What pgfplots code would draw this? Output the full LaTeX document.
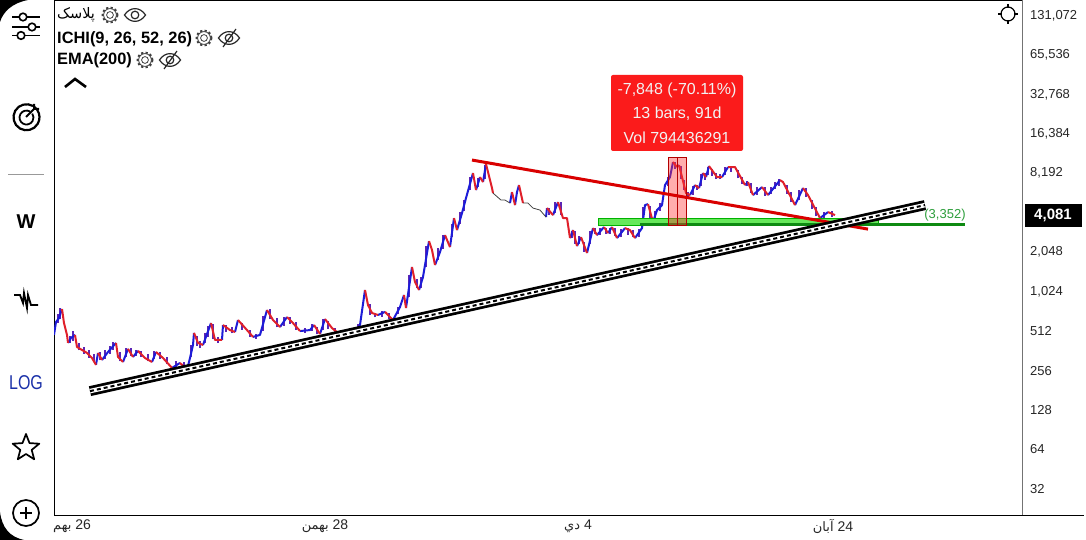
\documentclass[border=0pt]{standalone}
\usepackage{fontspec}
\usepackage{graphicx}
\usepackage{pgfplots}
\pgfplotsset{compat=1.18}
\setmainfont{Liberation Sans}
\newfontfamily\arabicfont[Script=Arabic]{DejaVu Sans}
\TeXXeTstate=1
\definecolor{upc}{HTML}{1C1CD8}
\definecolor{dnc}{HTML}{E0202A}
\definecolor{midc}{HTML}{5B25B5}
\definecolor{tipred}{HTML}{FB1B1B}
\definecolor{gfill}{HTML}{66E85A}
\definecolor{gdark}{HTML}{0E8A12}
\definecolor{glab}{HTML}{2E9E3C}
\definecolor{logblue}{HTML}{1A30A8}
\newcommand{\fs}[1]{\fontsize{#1}{#1}\selectfont}
\newcommand{\gearicon}[1]{%
  \draw[line width=2pt,draw=black!75,dash pattern=on 2.2pt off 2.2pt] (#1) circle (7.4);
  \draw[line width=.8pt,draw=black!75,fill=white] (#1) circle (6.4);
  \draw[line width=.8pt,draw=black!75] (#1) circle (3.4);
}
\newcommand{\eyeicon}[1]{%
  \draw[line width=1.2pt,draw=black!85,shift={(#1)}] (-10.5,0) .. controls (-5,-8.5) and (5,-8.5) .. (10.5,0) .. controls (5,8.5) and (-5,8.5) .. (-10.5,0) -- cycle;
  \draw[line width=1.2pt,draw=black!85] (#1) circle (3.8);
}
\newcommand{\eyeoff}[1]{%
  \eyeicon{#1}
  \draw[line width=1.2pt,draw=black!85,shift={(#1)}] (-6,9) -- (7,-9);
}
\begin{document}
\begin{tikzpicture}
\useasboundingbox (0,0) rectangle (1086pt,540pt);
\begin{axis}[
  at={(54pt,25pt)}, anchor=south west,
  scale only axis, width=968pt, height=515pt,
  xmin=54, xmax=1022,
  ymode=log, log basis y=2,
  ymin=20.55, ymax=174270,
  ytick={32,64,128,256,512,1024,2048,4096,8192,16384,32768,65536,131072},
  yticklabels={32,64,128,256,512,{1,024},{2,048},,{8,192},{16,384},{32,768},{65,536},{131,072}},
  xtick={72,325,578,833},
  xticklabels={{\arabicfont\fs{13}\beginR بهم\endR}\ 26,{\arabicfont\fs{13}\beginR بهمن\endR}\ 28,{\arabicfont\fs{13}\beginR دي\endR}\ 4,{\arabicfont\fs{13}\beginR آبان\endR}\ 24},
  yticklabel pos=right,
  major tick length=0pt, minor tick num=0,
  tick label style={font=\fs{14},text=black!85},
  yticklabel style={anchor=west,inner sep=0pt,xshift=8pt,yshift=0.8pt,font=\fs{13}},
  xticklabel style={yshift=-1pt},
  axis line style={line width=.8pt,draw=black},
  unbounded coords=jump,
  clip=true,
]
% single bars in the choppy stretches (low, high)
\addplot[midc,line width=1.8pt,no marks] coordinates {
(58,600)(58,700)(nan,nan)(60,640)(60,780)(nan,nan)(70,420)(70,480)(nan,nan)(73,440)(73,520)(nan,nan)
(79,370)(79,420)(nan,nan)(84,350)(84,395)(nan,nan)(89,325)(89,375)(nan,nan)(94,300)(94,345)(nan,nan)
(100,310)(100,360)(nan,nan)(105,320)(105,375)(nan,nan)(110,350)(110,400)(nan,nan)(113,375)(113,430)(nan,nan)
(120,305)(120,360)(nan,nan)(126,330)(126,385)(nan,nan)(131,335)(131,385)(nan,nan)(136,335)(136,370)(nan,nan)
(141,330)(141,365)(nan,nan)(148,305)(148,345)(nan,nan)(154,320)(154,365)(nan,nan)(160,320)(160,360)(nan,nan)
(167,290)(167,330)(nan,nan)(176,270)(176,305)(nan,nan)(184,265)(184,300)(nan,nan)(191,330)(191,410)(nan,nan)
(197,400)(197,480)(nan,nan)(200,385)(200,440)(nan,nan)(205,420)(205,500)(nan,nan)(208,470)(208,570)(nan,nan)
(213,450)(213,590)(nan,nan)(218,425)(218,470)(nan,nan)(226,510)(226,580)(nan,nan)(232,500)(232,560)(nan,nan)
(242,530)(242,600)(nan,nan)(250,470)(250,530)(nan,nan)(256,455)(256,495)(nan,nan)(263,520)(263,680)(nan,nan)
(270,640)(270,760)(nan,nan)(277,555)(277,650)(nan,nan)(284,570)(284,660)(nan,nan)(290,590)(290,660)(nan,nan)
(296,530)(296,610)(nan,nan)(305,505)(305,550)(nan,nan)(312,520)(312,590)(nan,nan)(317,490)(317,560)(nan,nan)
(323,530)(323,640)(nan,nan)(328,540)(328,620)(nan,nan)(335,490)(335,550)(nan,nan)(342,480)(342,530)(nan,nan)
(350,490)(350,530)(nan,nan)(358,500)(358,590)(nan,nan)(370,690)(370,840)(nan,nan)(375,660)(375,720)(nan,nan)
(382,670)(382,740)(nan,nan)(389,640)(389,720)(nan,nan)(398,700)(398,800)(nan,nan)(409,950)(409,1400)(nan,nan)
(417,1100)(417,1300)(nan,nan)(421,1100)(421,1350)(nan,nan)(426,1600)(426,2300)(nan,nan)(438,1800)(438,2250)(nan,nan)
(443,2200)(443,2800)(nan,nan)(452,2700)(452,3400)(nan,nan)(460,3400)(460,4200)(nan,nan)(464,4300)(464,5200)(nan,nan)
(470,6200)(470,7800)(nan,nan)(478,6500)(478,7700)(nan,nan)(485,7500)(485,9600)(nan,nan)(549,4000)(549,4500)(nan,nan)
(555,4100)(555,5000)(nan,nan)(561,4000)(561,5000)(nan,nan)(572,2650)(572,3000)(nan,nan)(575,2400)(575,3000)(nan,nan)
(579,2400)(579,2750)(nan,nan)(584,2100)(584,2500)(nan,nan)(590,2400)(590,3000)(nan,nan)(595,2850)(595,3150)(nan,nan)
(600,2800)(600,3200)(nan,nan)(606,2850)(606,3200)(nan,nan)(610,2850)(610,3200)(nan,nan)(615,2750)(615,3200)(nan,nan)
(621,2700)(621,3100)(nan,nan)(628,2800)(628,3150)(nan,nan)(633,2700)(633,3050)(nan,nan)(639,2700)(639,3100)(nan,nan)
(643,3300)(643,4600)(nan,nan)(650,3600)(650,4700)(nan,nan)(655,3600)(655,4300)(nan,nan)(660,4300)(660,4900)(nan,nan)
(668,6600)(668,7800)(nan,nan)(675,9000)(675,10100)(nan,nan)(681,7500)(681,9500)(nan,nan)(684,6200)(684,7400)(nan,nan)
(688,5500)(688,6000)(nan,nan)(693,5700)(693,6700)(nan,nan)(697,6200)(697,6800)(nan,nan)(701,6700)(701,8200)(nan,nan)
(705,7400)(705,8400)(nan,nan)(708,8000)(708,9300)(nan,nan)(712,7900)(712,9000)(nan,nan)(716,7500)(716,8400)(nan,nan)
(720,7500)(720,8200)(nan,nan)(725,8000)(725,9300)(nan,nan)(731,8500)(731,9400)(nan,nan)(738,7600)(738,8800)(nan,nan)
(742,6900)(742,7800)(nan,nan)(747,6600)(747,7200)(nan,nan)(751,5900)(751,7000)(nan,nan)(757,5700)(757,6500)(nan,nan)
(765,5600)(765,6500)(nan,nan)(771,5800)(771,6500)(nan,nan)(775,6300)(775,7100)(nan,nan)(779,6700)(779,7500)(nan,nan)
(787,5800)(787,6800)(nan,nan)(791,5000)(791,6000)(nan,nan)(799,5200)(799,6200)(nan,nan)(806,5500)(806,6400)(nan,nan)
(812,4400)(812,5200)(nan,nan)(816,3900)(816,4600)(nan,nan)(824,3800)(824,4200)(nan,nan)(832,3850)(832,4300)
};
% rising runs
\addplot[upc,line width=2pt,line join=round,no marks] coordinates {
(54,486)(56,609)(59,653)(62,765)(nan,nan)
(68,422)(71,461)(75,486)(nan,nan)
(96,287)(98,354)(nan,nan)
(102,313)(108,360)(116,422)(nan,nan)
(123,302)(128,380)(nan,nan)
(133,330)(138,367)(nan,nan)
(152,302)(156,360)(nan,nan)
(172,272)(180,297)(nan,nan)
(187,263)(190,324)(193,407)(194,503)(nan,nan)
(203,407)(211,598)(nan,nan)
(222,445)(223,578)(nan,nan)
(235,511)(238,631)(nan,nan)
(253,469)(260,486)(267,752)(nan,nan)
(280,558)(287,665)(nan,nan)
(300,520)(310,529)(314,578)(nan,nan)
(320,494)(325,642)(nan,nan)
(338,503)(347,511)(nan,nan)
(355,503)(360,578)(365,1069)(nan,nan)
(378,689)(385,728)(nan,nan)
(393,631)(400,793)(404,979)(nan,nan)
(406,779)(412,1601)(nan,nan)
(419,1069)(423,1343)(429,2524)(nan,nan)
(435,1659)(440,2081)(445,2804)(nan,nan)
(450,2272)(454,3781)(nan,nan)
(457,3062)(462,4128)(466,5373)(473,8337)(nan,nan)
(476,6184)(480,7772)(nan,nan)
(483,7118)(486,9766)(nan,nan)
(510,4921)(512,5971)(nan,nan)
(515,4751)(517,5971)(519,6752)(nan,nan)
(546,3849)(547,4507)(nan,nan)
(553,3985)(558,5008)(nan,nan)
(570,2661)(573,3062)(nan,nan)
(577,2312)(581,2707)(nan,nan)
(587,2048)(593,3172)(nan,nan)
(597,2804)(604,3228)(nan,nan)
(608,2906)(612,3228)(nan,nan)
(617,2661)(625,3172)(nan,nan)
(635,2661)(642,3172)(645,4751)(648,4836)(nan,nan)
(653,3525)(657,4352)(662,4751)(665,6752)(670,7772)(673,10115)(nan,nan)
(677,9264)(679,9595)(nan,nan)
(690,5664)(695,6752)(nan,nan)
(699,6405)(703,8337)(nan,nan)
(706,7772)(709,9428)(nan,nan)
(722,7772)(728,9264)(nan,nan)
(745,6752)(748,7118)(nan,nan)
(753,5664)(762,6519)(nan,nan)
(768,5664)(780,7372)(nan,nan)
(795,4751)(803,6405)(nan,nan)
(820,3781)(828,4201)
};
% falling runs
\addplot[dnc,line width=2pt,line join=round,no marks] coordinates {
(62,765)(64,598)(67,486)(68,422)(nan,nan)
(75,486)(77,393)(82,373)(87,354)(92,324)(96,287)(nan,nan)
(98,354)(102,313)(nan,nan)
(116,422)(118,330)(123,302)(nan,nan)
(128,380)(133,330)(nan,nan)
(138,367)(145,324)(152,302)(nan,nan)
(156,360)(163,324)(172,272)(nan,nan)
(180,297)(187,263)(nan,nan)
(194,503)(198,422)(203,407)(nan,nan)
(211,598)(215,445)(222,445)(nan,nan)
(223,578)(230,529)(235,511)(nan,nan)
(238,631)(247,529)(253,469)(nan,nan)
(267,752)(273,631)(280,558)(nan,nan)
(287,665)(293,598)(300,520)(nan,nan)
(314,578)(320,494)(nan,nan)
(325,642)(332,548)(338,503)(nan,nan)
(347,511)(355,503)(nan,nan)
(365,1069)(368,821)(372,714)(378,689)(nan,nan)
(385,728)(393,631)(nan,nan)
(404,979)(406,779)(nan,nan)
(412,1601)(415,1230)(419,1069)(nan,nan)
(429,2524)(432,2155)(435,1659)(nan,nan)
(445,2804)(450,2272)(nan,nan)
(454,3781)(457,3062)(nan,nan)
(473,8337)(476,6184)(nan,nan)
(480,7772)(483,7118)(nan,nan)
(486,9766)(492,6405)(493,5867)(nan,nan)
(512,5971)(515,4751)(nan,nan)
(519,6752)(523,4921)(nan,nan)
(547,4507)(553,3985)(nan,nan)
(558,5008)(563,3781)(567,3781)(570,2661)(nan,nan)
(573,3062)(577,2312)(nan,nan)
(581,2707)(587,2048)(nan,nan)
(593,3172)(597,2804)(nan,nan)
(604,3228)(608,2906)(nan,nan)
(612,3228)(617,2661)(nan,nan)
(625,3172)(630,3062)(635,2661)(nan,nan)
(648,4836)(653,3525)(nan,nan)
(673,10115)(677,9264)(nan,nan)
(679,9595)(686,5867)(690,5664)(nan,nan)
(695,6752)(699,6405)(nan,nan)
(703,8337)(706,7772)(nan,nan)
(709,9428)(717,7772)(722,7772)(nan,nan)
(728,9264)(735,9264)(745,6752)(nan,nan)
(748,7118)(753,5664)(nan,nan)
(762,6519)(768,5664)(nan,nan)
(780,7372)(783,7118)(795,4751)(nan,nan)
(803,6405)(808,5664)(820,3781)(nan,nan)
(828,4201)(835,3985)
};
% thin dark stretches where the bars are flat
\addplot[black!75,line width=.8pt,no marks] coordinates {(493,5867)(501,5188)(505,5188)(510,4921)(nan,nan)(523,4921)(528,4921)(533,4507)(540,4352)(546,3849)};
% green zone and level
\addplot[fill=gfill,draw=green!70!black,line width=.6pt,no marks] coordinates {(598,3781)(878,3781)(878,3347)(598,3347)(598,3781)};
\addplot[gdark,line width=3pt,no marks] coordinates {(640,3352)(965,3352)};
% measured range
\addplot[fill=red!80,fill opacity=.4,draw=red!70!black,line width=.7pt,no marks] coordinates {(668,11044)(686,11044)(686,3347)(668,3347)(668,11044)};
\addplot[red!70!black,line width=.7pt,no marks] coordinates {(677,11044)(677,3347)};
% trend lines
\addplot[red!85!black,line width=3pt,no marks] coordinates {(472,10477)(868,3116)};
\addplot[black,line width=10pt,no marks] coordinates {(90,181)(925,4751)};
\addplot[white,line width=4.5pt,no marks] coordinates {(90,181)(925,4751)};
\addplot[black,line width=2pt,dash pattern=on 4pt off 3pt,no marks] coordinates {(90,181)(925,4751)};
\node[anchor=center,text=glab,font=\fs{13}] at (axis cs:945,3950) {(3,352)};
\end{axis}
\begin{scope}[x=1pt,y=-1pt,yshift=540pt]
  % axis extras
  \draw[black,line width=.9pt] (1022,515) -- (1084,515);
  \draw[white!45!black,line width=.9pt] (1022,0) -- (1022,515);
  \fill[black] (1025,204) rectangle (1082,227);
  \node[text=white,font=\bfseries\fs{15}] at (1053,215.5) {4,081};
  % tooltip
  \fill[tipred,rounded corners=2pt] (611,75) rectangle (743,151);
  \node[text=white!95!black,font=\fs{16}] at (677,90) {-7,848 (-70.11\%)};
  \node[text=white!95!black,font=\fs{16}] at (677,114) {13 bars, 91d};
  \node[text=white!95!black,font=\fs{16}] at (677,138) {Vol 794436291};
  % top-right crosshair
  \draw[line width=1.2pt] (1008,14) circle (7);
  \draw[line width=1.2pt] (1008,4) -- (1008,8) (1008,20) -- (1008,24) (998,14) -- (1002,14) (1014,14) -- (1018,14);
  % legend
  \node[anchor=west,inner sep=0pt,font=\arabicfont\fs{14.5}] at (57,14.5) {\beginR پلاسک\endR};
  \gearicon{110,15}
  \eyeicon{135,15}
  \node[anchor=west,inner sep=0pt,font=\bfseries\fs{16.4}] at (57,39) {ICHI(9, 26, 52, 26)};
  \gearicon{204,38}
  \eyeoff{229,38}
  \node[anchor=west,inner sep=0pt,font=\bfseries\fs{16.4}] at (57,60.5) {EMA(200)};
  \gearicon{145,60}
  \eyeoff{170,60}
  \draw[line width=2.6pt] (65,87) -- (75,79) -- (86,87);
  % sidebar
  \fill[black] (0,0) -- (28,0) .. controls (12,3) and (3,12) .. (0,22) -- cycle;
  \fill[black] (0,512) .. controls (2,528) and (10,537) .. (24,540) -- (0,540) -- cycle;
  \draw[line width=1.8pt] (12,17) -- (40,17) (12,27) -- (40,27) (12,35.5) -- (40,35.5);
  \draw[line width=1.6pt,fill=white] (23,17) circle (3.8) (32,27) circle (3.8) (21,35.5) circle (3.8);
  \draw[line width=2.2pt] (33,106) arc[start angle=-60,end angle=-395,radius=13] ;
  \draw[line width=1.8pt] (30,111.5) arc[start angle=-60,end angle=-395,radius=7];
  \draw[line width=2pt] (26,117) -- (36,107) (34,104) -- (34,109) -- (39,109);
  \draw[black!40,line width=.7pt] (8,174) -- (44,174);
  \node[font=\bfseries\fs{20}] at (26,222) {W};
  \draw[line width=1.8pt] (14,295) -- (20,295) -- (23,303) -- (24,293) -- (27,308) -- (28,295) -- (31,305) -- (38,305);
  \node[text=logblue,font=\fs{20}] at (26,383) {\scalebox{.8}[1]{LOG}};
  \draw[line width=1.7pt,line join=round] (26,434) -- (29.5,443.1) -- (39.3,443.7) -- (31.7,449.9) -- (34.2,459.3) -- (26,454) -- (17.8,459.3) -- (20.3,449.9) -- (12.7,443.7) -- (22.5,443.1) -- cycle;
  \draw[line width=1.7pt] (26,513) circle (13);
  \draw[line width=1.7pt] (26,507) -- (26,519) (20,513) -- (32,513);
\end{scope}
\end{tikzpicture}
\end{document}
